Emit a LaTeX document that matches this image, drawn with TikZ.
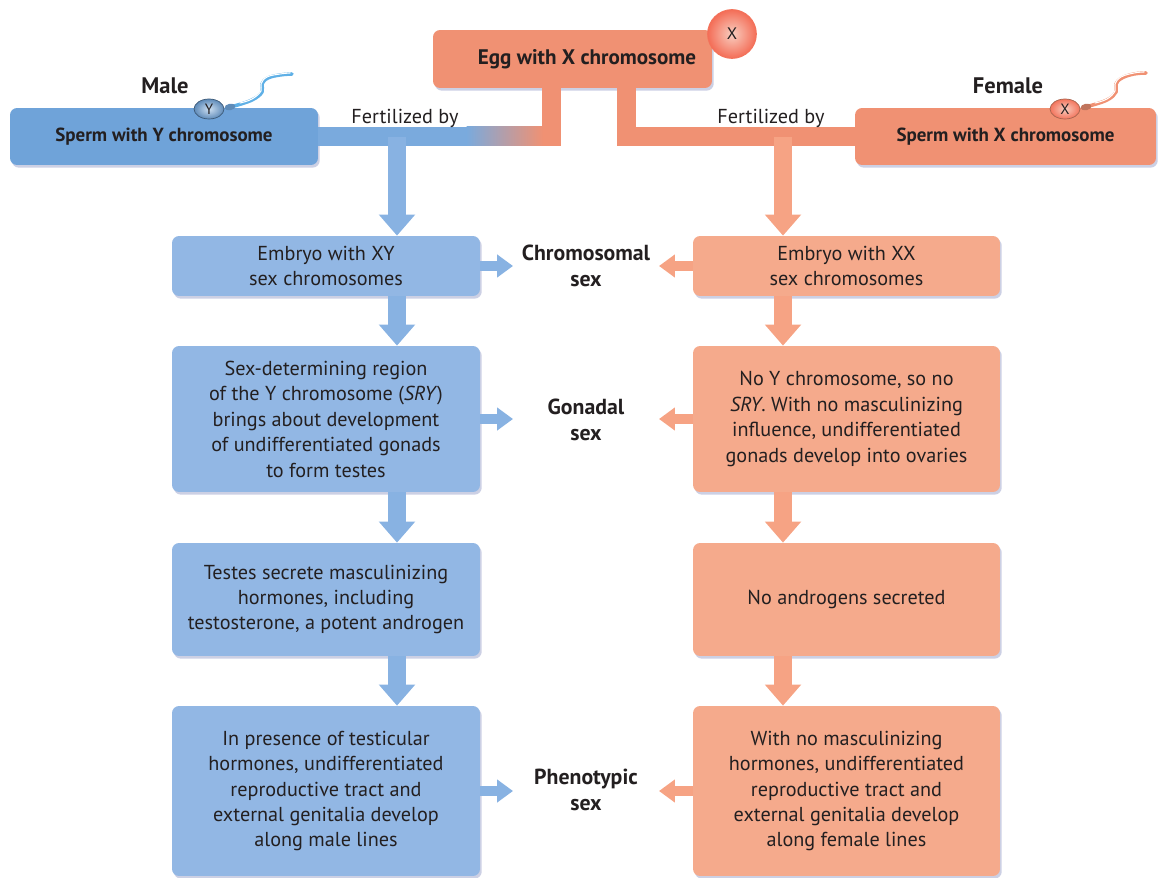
\documentclass[tikz,border=0pt]{standalone}
\usepackage{fontspec}
\setmainfont{PT Sans}
\usepackage{xcolor}
\usetikzlibrary{arrows.meta, positioning, shadows, shapes.geometric, calc}

\definecolor{SpermBlue}{HTML}{6FA3D9}
\definecolor{BoxBlue}{HTML}{92B7E4}
\definecolor{BandBlue}{HTML}{7AAADD}
\definecolor{ArrowBlue}{HTML}{88B2E2}
\definecolor{TailBlue}{HTML}{5FB0E6}
\definecolor{EggOrange}{HTML}{F09173}
\definecolor{BoxOrange}{HTML}{F5AA8C}
\definecolor{ArrowOrange}{HTML}{F6A384}
\definecolor{Ink}{HTML}{231F20}
\definecolor{ShadowC}{HTML}{8E97C4}

\tikzset{
  boxB/.style={rectangle, rounded corners=4pt, fill=BoxBlue, inner sep=0pt,
               text=Ink, align=center, font=\fontsize{11.5}{14.5}\selectfont,
               drop shadow={shadow xshift=1pt, shadow yshift=-1.5pt,
                            fill=ShadowC, opacity=0.45}},
  boxP/.style={boxB, fill=BoxOrange},
  topB/.style={boxB, fill=SpermBlue, font=\bfseries\fontsize{10.8}{12}\selectfont},
  topP/.style={boxB, fill=EggOrange, font=\bfseries\fontsize{10.8}{12}\selectfont},
  sexlabel/.style={text=Ink, align=center, font=\bfseries\fontsize{12.4}{14.5}\selectfont},
  sidelabel/.style={text=Ink, font=\bfseries\fontsize{12.8}{14}\selectfont},
  fertlabel/.style={text=Ink, font=\fontsize{11.5}{12}\selectfont},
  bandB/.style={draw=BandBlue, line width=10.5pt},
  bandP/.style={draw=EggOrange, line width=10.5pt},
  fatB/.style={draw=ArrowBlue, line width=10pt, -{Triangle[width=20pt,length=12pt]}},
  fatP/.style={fatB, draw=ArrowOrange, fill=ArrowOrange},
  thinB/.style={draw=ArrowBlue, line width=5.5pt, -{Triangle[width=12.5pt,length=9pt]}},
  thinP/.style={thinB, draw=ArrowOrange},
  headB/.style={ellipse, shading=radial, inner color=SpermBlue!35!white,
                outer color=SpermBlue!85!black, draw=SpermBlue!55!black,
                line width=0.4pt, minimum width=0.6cm, minimum height=0.4cm,
                inner sep=0pt, text=Ink, font=\fontsize{8.5}{8.5}\selectfont},
  headP/.style={headB, inner color=EggOrange!45!white, outer color=EggOrange!80!red,
                draw=EggOrange!70!black},
  eggcell/.style={circle, shading=radial, inner color=EggOrange!45!white,
                  outer color=EggOrange!75!red, draw=EggOrange!80!red,
                  line width=0.4pt, minimum size=0.98cm, inner sep=0pt,
                  text=Ink, font=\fontsize{9.5}{9.5}\selectfont},
}

\begin{document}
\begin{tikzpicture}[x=0.02cm, y=-0.02cm]
    \useasboundingbox (0,0) rectangle (1159,878);

    % gametes
    \node[topP, minimum width=5.58cm, minimum height=1.16cm,
          font=\bfseries\fontsize{12}{13}\selectfont] (egg) at (572.5,59)
      {\hspace*{0.58cm}Egg with X chromosome};
    \node[topB, minimum width=6.16cm, minimum height=1.14cm] (spermY) at (164,136.5) {Sperm with Y chromosome};
    \node[topP, minimum width=6.02cm, minimum height=1.14cm] (spermX) at (1005.5,136.5) {Sperm with X chromosome};
    \node[sidelabel] (male) at (165,86) {Male};
    \node[sidelabel] (female) at (1008,86) {Female};

    % male column
    \node[boxB, minimum width=6.16cm, minimum height=1.2cm] (B1) at (326,266)
      {Embryo with XY\\sex chromosomes};
    \node[boxB, minimum width=6.16cm, minimum height=2.92cm] (B2) at (326,419)
      {Sex-determining region\\of the Y chromosome (\textit{SRY})\\brings about development\\of undifferentiated gonads\\to form testes};
    \node[boxB, minimum width=6.16cm, minimum height=2.26cm] (B3) at (326,599.5)
      {Testes secrete masculinizing\\hormones, including\\testosterone, a potent androgen};
    \node[boxB, minimum width=6.16cm, minimum height=3.4cm] (B4) at (326,791)
      {In presence of testicular\\hormones, undifferentiated\\reproductive tract and\\external genitalia develop\\along male lines};

    % female column
    \node[boxP, minimum width=6.14cm, minimum height=1.2cm] (R1) at (846.5,266)
      {Embryo with XX\\sex chromosomes};
    \node[boxP, minimum width=6.14cm, minimum height=2.92cm] (R2) at (846.5,419)
      {No Y chromosome, so no\\\textit{SRY}. With no masculinizing\\influence, undifferentiated\\gonads develop into ovaries};
    \node[boxP, minimum width=6.14cm, minimum height=2.26cm] (R3) at (846.5,599.5)
      {No androgens secreted};
    \node[boxP, minimum width=6.14cm, minimum height=3.4cm] (R4) at (846.5,791)
      {With no masculinizing\\hormones, undifferentiated\\reproductive tract and\\external genitalia develop\\along female lines};

    % levels of sex
    \node[sexlabel] (chrom) at (586,266) {Chromosomal\\sex};
    \node[sexlabel] (gonad) at (586,420) {Gonadal\\sex};
    \node[sexlabel] (pheno) at (586,790) {Phenotypic\\sex};

    \coordinate (forkL) at (397,137);
    \coordinate (forkR) at (783,137);
    \coordinate (midL) at (513,0);
    \coordinate (midR) at (659,0);
    \coordinate (cornerL) at ([xshift=-0.42cm]egg.south |- spermY.east);

    % fertilization bands
    \draw[bandB] ([xshift=-0.42cm]egg.south) |- (spermY.east);
    \draw[bandP] ([xshift=-0.42cm]egg.south) -- ($(cornerL)+(0,9.5)$);
    \shade[left color=BandBlue, right color=EggOrange]
      ($(cornerL)+(-85,-9.5)$) rectangle ($(cornerL)+(-8.5,9.5)$);
    \draw[bandP] ([xshift=1.08cm]egg.south) |- (spermX.west);
    \node[fertlabel] (fertL) at (405,118) {Fertilized by};
    \node[fertlabel] (fertR) at (771,118) {Fertilized by};

    % downward steps
    \draw[fatB] (forkL) -- (forkL |- B1.north);
    \draw[fatB] (forkL |- B1.south) -- (forkL |- B2.north);
    \draw[fatB] (forkL |- B2.south) -- (forkL |- B3.north);
    \draw[fatB] (forkL |- B3.south) -- (forkL |- B4.north);
    \draw[fatP] (forkR) -- (forkR |- R1.north);
    \draw[fatP] (forkR |- R1.south) -- (forkR |- R2.north);
    \draw[fatP] (forkR |- R2.south) -- (forkR |- R3.north);
    \draw[fatP] (forkR |- R3.south) -- (forkR |- R4.north);

    % pointers to the middle
    \draw[thinB] (B1.east) -- (B1.east -| midL);
    \draw[thinB] (B2.east) -- (B2.east -| midL);
    \draw[thinB] (B4.east) -- (B4.east -| midL);
    \draw[thinP] (R1.west) -- (R1.west -| midR);
    \draw[thinP] (R2.west) -- (R2.west -| midR);
    \draw[thinP] (R4.west) -- (R4.west -| midR);

    % egg cell and sperm
    \node[eggcell] (eggX) at (732,34) {X};
    \draw[TailBlue, line width=2pt, line cap=round]
      plot[smooth, tension=0.7] coordinates {(234,106) (252,100) (262,92) (262,84) (268,78) (280,75) (292,74)};
    \draw[white, line width=0.6pt, line cap=round]
      plot[smooth, tension=0.7] coordinates {(240,103) (252,99) (261,91) (261,84) (267,77) (280,74) (290,73)};
    \node[ellipse, fill=SpermBlue!85!black, minimum width=0.22cm, minimum height=0.13cm,
          inner sep=0pt, rotate=10] (neckY) at (230,107) {};
    \node[headB] (headY) at (209,109) {Y};

    \draw[EggOrange, line width=2pt, line cap=round]
      plot[smooth, tension=0.7] coordinates {(1089,106) (1107,100) (1116,92) (1116,84) (1122,78) (1134,74) (1146,73)};
    \draw[white, line width=0.6pt, line cap=round]
      plot[smooth, tension=0.7] coordinates {(1095,103) (1107,99) (1115,91) (1115,84) (1121,77) (1134,73) (1144,72)};
    \node[ellipse, fill=EggOrange!80!black, minimum width=0.22cm, minimum height=0.13cm,
          inner sep=0pt, rotate=10] (neckX) at (1086,107) {};
    \node[headP] (headX) at (1065,109) {X};
\end{tikzpicture}
\end{document}
